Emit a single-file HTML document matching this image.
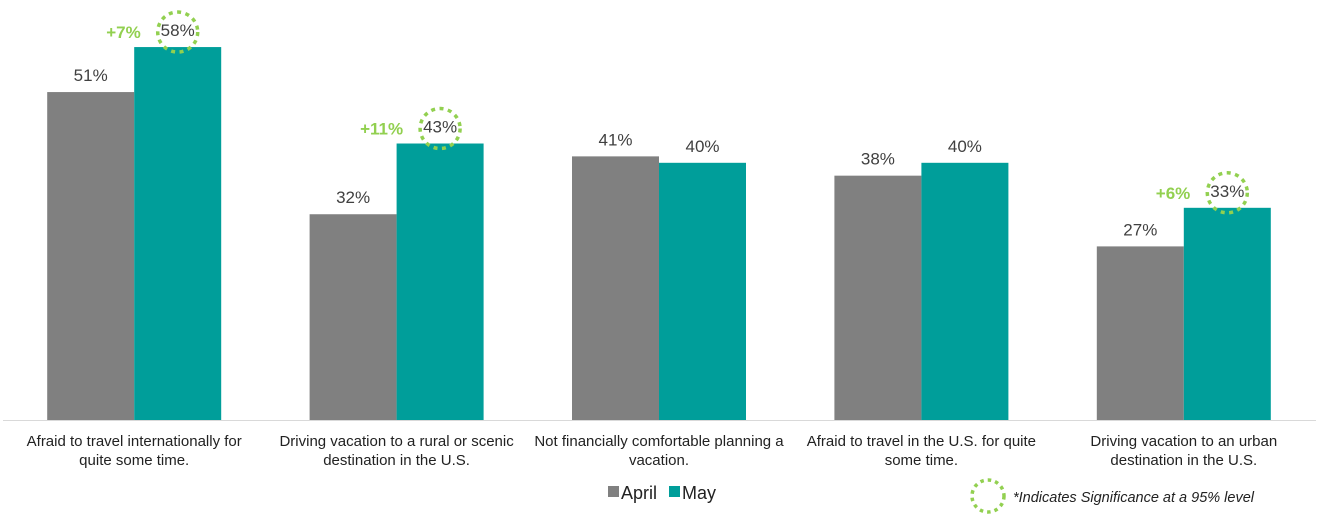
<!DOCTYPE html>
<html><head><meta charset="utf-8"><style>
body{margin:0;background:#fff;}
svg{display:block;font-family:"Liberation Sans",Arial,sans-serif;}
</style></head><body>
<svg width="1319" height="517" viewBox="0 0 1319 517">
<line x1="3" y1="420.5" x2="1316" y2="420.5" stroke="#d9d9d9" stroke-width="1"/>
<g id="bars"></g>
<g id="labels"></g>
<g>
<rect x="608" y="486" width="11" height="11" fill="#808080"/>
<text x="621" y="499" font-size="18" fill="#222">April</text>
<rect x="669" y="486" width="11" height="11" fill="#009e9a"/>
<text x="682" y="499" font-size="18" fill="#222">May</text>
</g>
<circle cx="988" cy="496" r="16" fill="none" stroke="#92d050" stroke-width="3.5" stroke-dasharray="3.5 4"/>
<text x="1013" y="502" font-size="14.5" font-style="italic" fill="#222">*Indicates Significance at a 95% level</text>
</svg>
<script>
const categories=[["Afraid to travel internationally for","quite some time."],["Driving vacation to a rural or scenic","destination in the U.S."],["Not financially comfortable planning a","vacation."],["Afraid to travel in the U.S. for quite","some time."],["Driving vacation to an urban","destination in the U.S."]];
const april=[51,32,41,38,27];
const may=[58,43,40,40,33];
const diffs=["+7%","+11%","","","+6%"];
const NS="http://www.w3.org/2000/svg";
const y0=420, pxPer=6.43, x0=3, catW=262.4, barW=87;
const yS=v=>y0-v*pxPer;
const cx=i=>x0+catW*(i+0.5);
const bars=document.getElementById('bars'), labs=document.getElementById('labels');
function mk(tag,attrs,parent,txt){const e=document.createElementNS(NS,tag);for(const k in attrs)e.setAttribute(k,attrs[k]);if(txt!==undefined)e.textContent=txt;parent.appendChild(e);return e;}
categories.forEach((c,i)=>{
  const c0=cx(i);
  [[april,'#808080',-barW,'april'],[may,'#009e9a',0,'may']].forEach(([arr,col,off,nm])=>{
    const v=arr[i];
    const r=mk('rect',{x:c0+off,y:yS(v),width:barW,height:v*pxPer,fill:col},bars);
    
    
    const t=mk('text',{x:c0+off+barW/2,y:yS(v)-11,'font-size':17,fill:'#404040','text-anchor':'middle'},labs,v+'%');
    
    
  });
  if(diffs[i]){
    const mx=c0+barW/2, my=yS(may[i])-11;
    const ci=mk('circle',{cx:mx,cy:my-4,r:20,fill:'none',stroke:'#92d050','stroke-width':3.5,'stroke-dasharray':'4 4.5'},labs);
    
    
    const d=mk('text',{x:mx-37,y:my+2,'font-size':17,'font-weight':'bold',fill:'#92d050','text-anchor':'end'},labs,diffs[i]);
    
    
  }
  c.forEach((ln,j)=>{
    const t=mk('text',{x:c0,y:446+j*19,'font-size':15,fill:'#222','text-anchor':'middle'},labs,ln);
    
    
  });
});
</script>
</body></html>
